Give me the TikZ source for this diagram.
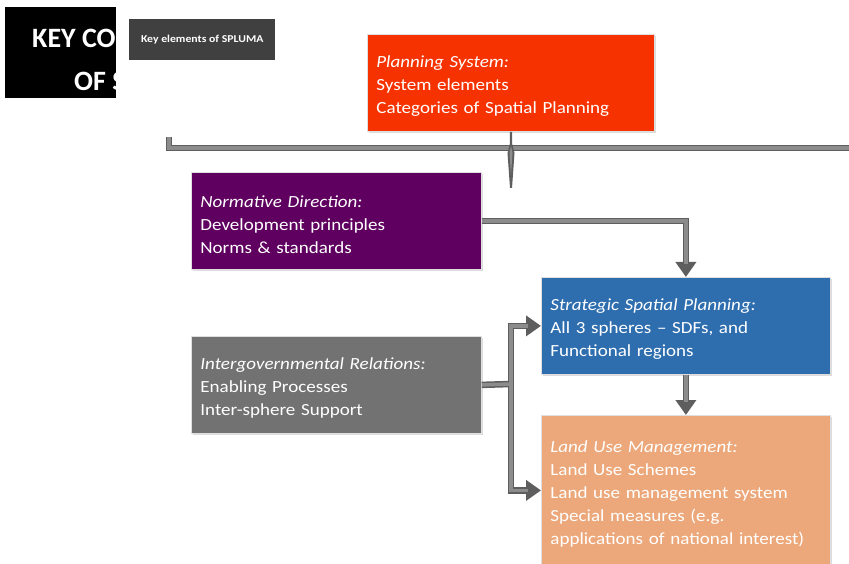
\documentclass[tikz,border=0pt]{standalone}
\usepackage{fontspec}
\setmainfont{Carlito}
\newfontfamily\boxfont{Carlito}[FakeStretch=1.12,Ligatures=TeX]
\usetikzlibrary{arrows.meta,shadows}
\definecolor{cred}{HTML}{F63300}
\definecolor{cpurple}{HTML}{5F0060}
\definecolor{cblue}{HTML}{2E6EAF}
\definecolor{corange}{HTML}{ECA87A}
\definecolor{cgray}{HTML}{727272}
\definecolor{cdark}{HTML}{404040}
\definecolor{connedge}{HTML}{5E5E5E}
\definecolor{connmid}{HTML}{8C8C8C}
\newcommand\tstrut{\rule{0pt}{18.5pt}}
\begin{document}
\begin{tikzpicture}[x=1pt,y=-1pt,
  box/.style={draw=white!75!gray, line width=0.8pt, text=white, align=left,
    anchor=north west, inner xsep=9pt, inner ysep=0pt,
    font=\boxfont\fontsize{17}{23}\selectfont,
    drop shadow={shadow xshift=1.5pt, shadow yshift=-2pt, opacity=0.28}},
  connout/.style={line width=6.5pt, draw=connedge},
  connin/.style={line width=3.5pt, draw=connmid},
  tipped/.style={-{Triangle[width=20pt,length=15pt]}},
  innertip/.style={shorten >=13pt},
]
\useasboundingbox (0,0) rectangle (849,564);

% title block
\node[fill=black, minimum width=111pt, minimum height=91pt, anchor=north west, inner sep=0pt] (title) at (5,7) {};
\begin{scope}
  \clip (title.north west) rectangle (title.south east);
  \node[anchor=base west, inner sep=0pt, text=white, font=\fontsize{28}{28}\selectfont\bfseries] (t1) at (32,48) {KEY CO};
  \node[anchor=base west, inner sep=0pt, text=white, font=\fontsize{28}{28}\selectfont\bfseries] (t2) at (74,91) {OF S};
\end{scope}
\node[fill=cdark, text=white, font=\boxfont\fontsize{10.5}{12}\selectfont\bfseries, minimum width=146pt, minimum height=41pt, anchor=north west, inner sep=0pt] (key) at (129,19) {Key elements of SPLUMA};

% connectors behind boxes
\coordinate (hookTop) at (169,137);
\coordinate (hookCorner) at (169,148);
\coordinate (barEnd) at (860,148);
\draw[connout] (hookTop) -- (hookCorner) -- (barEnd);
\draw[connin] (hookTop) -- (hookCorner) -- (barEnd);

% boxes
\node[box, fill=cred, text width=269pt, minimum height=97pt] (plan) at (367,34)
  {\tstrut\textit{Planning System:}\\System elements\\Categories of Spatial Planning};
\node[box, fill=cpurple, text width=272pt, minimum height=97pt] (norm) at (191,172)
  {\tstrut\textit{Normative Direction:}\\Development principles\\Norms \& standards};
\node[box, fill=cblue, text width=271pt, minimum height=97pt] (strat) at (541,277)
  {\tstrut\textit{Strategic Spatial Planning:}\\All 3 spheres \textendash{} SDFs, and\\Functional regions};
\node[box, fill=corange, text width=271pt, minimum height=150pt] (land) at (541,415)
  {\tstrut\textit{Land Use Management:}\\Land Use Schemes\\Land use management system\\Special measures (e.g.\\applications of national interest)};
\node[box, fill=cgray, text width=272pt, minimum height=97pt] (igr) at (191,336)
  {\tstrut\textit{Intergovernmental Relations:}\\Enabling Processes\\Inter-sphere Support};

% planning system drop line (tapered)
\coordinate (vend) at (511,188);
\fill[connedge] (plan.south -| 509.8,0) -- (plan.south -| 512.2,0) -- (512.2,144) -- (514.5,153)
  -- (512,188) -- (510,188) -- (507.5,153) -- (509.8,144) -- cycle;
\fill[connmid] (511,146) -- (512.5,153) -- (511,175) -- (509.5,153) -- cycle;

% normative -> strategic
\draw[connout, tipped] (norm.east) -| (strat.north);
\draw[connin, innertip] (norm.east) -| (strat.north);
% strategic -> land use
\draw[connout, tipped] (strat.south) -- (land.north);
\draw[connin, innertip] (strat.south) -- (land.north);
% intergovernmental -> both
\coordinate (jn) at (511,384);
\draw[connout] (igr.east) -- (jn);
\draw[connout, tipped] (jn) |- (strat.west);
\draw[connout, tipped] (jn) |- (land.west);
\draw[connin] (igr.east) -- (jn);
\draw[connin, innertip] (jn) |- (strat.west);
\draw[connin, innertip] (jn) |- (land.west);
\end{tikzpicture}
\end{document}
